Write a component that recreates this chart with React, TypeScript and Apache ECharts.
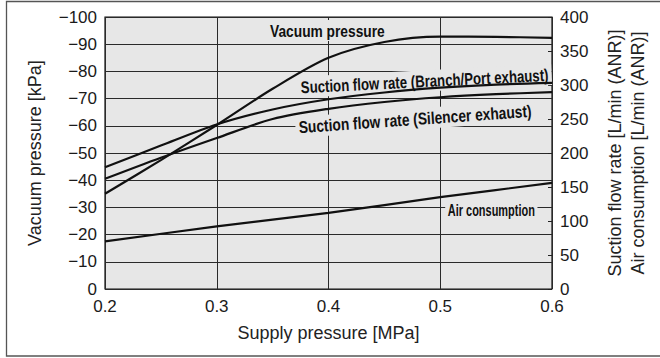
import React, { useEffect, useRef } from "react";
import * as echarts from "echarts";

// Supply pressure [MPa] sampling points
const supplyPressure = [0.2, 0.25, 0.3, 0.35, 0.4, 0.45, 0.5, 0.55, 0.6];
// Vacuum pressure [kPa] (left axis)
const vacuumPressure = [-35, -47.4, -60.3, -73.6, -85, -90.8, -92.8, -92.7, -92.3];
// Suction flow rate [L/min (ANR)] (right axis)
const flowBranchPort = [179, 211, 242, 264, 279, 289, 296, 300.5, 303];
const flowSilencer = [162, 193, 222, 250, 265, 275, 282, 286.5, 289.5];
// Air consumption [L/min (ANR)] (right axis)
const airPressure = [0.2, 0.3, 0.4, 0.5, 0.6];
const airConsumption = [70, 92, 112, 135, 156];

const FONT = '"Liberation Sans", Arial, Helvetica, sans-serif';
const INK = "#111";
const PLOT_BG = "#e7e7e7";

// Curve captions, anchored in data coordinates
const captions = [
  { text: "Vacuum pressure", at: [0.399, -95], yAxisIndex: 0, rotateDeg: 0, stretch: 0.81 },
  { text: "Suction flow rate (Branch/Port exhaust)", at: [0.486, 306], yAxisIndex: 1, rotateDeg: 2.85, stretch: 0.777 },
  { text: "Suction flow rate (Silencer exhaust)", at: [0.4775, 250], yAxisIndex: 1, rotateDeg: 4.0, stretch: 0.81 },
  { text: "Air consumption", at: [0.5457, 116], yAxisIndex: 1, rotateDeg: 0, stretch: 0.645 },
];

const minus = (v: number) => (v < 0 ? "\u2212" + Math.abs(v) : String(v));

const lineStyle = { color: INK, width: 2.2 };

const option: any = {
  animation: false,
  backgroundColor: "#fff",
  textStyle: { fontFamily: FONT },
  grid: {
    left: 105,
    right: 108,
    top: 17,
    bottom: 69,
    show: true,
    backgroundColor: PLOT_BG,
    borderColor: "#111",
    borderWidth: 1.2,
  },
  xAxis: {
    type: "value",
    min: 0.2,
    max: 0.6,
    interval: 0.1,
    name: "Supply pressure [MPa]",
    nameLocation: "middle",
    nameGap: 35,
    nameTextStyle: { fontSize: 18, color: "#222", fontFamily: FONT },
    axisLine: { show: false },
    axisTick: { show: false },
    axisLabel: {
      fontSize: 17,
      color: "#1a1a1a",
      margin: 9,
      formatter: (v: number) => v.toFixed(1),
    },
    splitLine: { show: true, lineStyle: { color: "#2a2a2a", width: 1 } },
  },
  yAxis: [
    {
      type: "value",
      position: "left",
      min: -100,
      max: 0,
      interval: 10,
      inverse: true,
      name: "Vacuum pressure [kPa]",
      nameLocation: "middle",
      nameRotate: 90,
      nameGap: 61,
      nameTextStyle: { fontSize: 18, color: "#222", fontFamily: FONT },
      axisLine: { show: false },
      axisTick: { show: false },
      axisLabel: { fontSize: 17, color: "#1a1a1a", margin: 8, formatter: minus },
      splitLine: { show: true, lineStyle: { color: "#2a2a2a", width: 1 } },
    },
    {
      type: "value",
      position: "right",
      min: 0,
      max: 400,
      interval: 50,
      name: "Suction flow rate [L/min (ANR)]\nAir consumption [L/min (ANR)]",
      nameLocation: "middle",
      nameRotate: 90,
      nameGap: 51,
      nameTextStyle: { fontSize: 18, color: "#222", lineHeight: 23, fontFamily: FONT },
      axisLine: { show: false },
      axisTick: { show: true, inside: true, length: 4, lineStyle: { color: "#222", width: 1 } },
      axisLabel: { fontSize: 17, color: "#1a1a1a", margin: 8 },
      splitLine: { show: false },
    },
  ],
  series: [
    {
      name: "Vacuum pressure",
      type: "line",
      yAxisIndex: 0,
      data: supplyPressure.map((p, i) => [p, vacuumPressure[i]]),
      smooth: 0.3,
      showSymbol: false,
      lineStyle,
      z: 3,
    },
    {
      name: "Suction flow rate (Branch/Port exhaust)",
      type: "line",
      yAxisIndex: 1,
      data: supplyPressure.map((p, i) => [p, flowBranchPort[i]]),
      smooth: 0.3,
      showSymbol: false,
      lineStyle,
      z: 3,
    },
    {
      name: "Suction flow rate (Silencer exhaust)",
      type: "line",
      yAxisIndex: 1,
      data: supplyPressure.map((p, i) => [p, flowSilencer[i]]),
      smooth: 0.3,
      showSymbol: false,
      lineStyle,
      z: 3,
    },
    {
      name: "Air consumption",
      type: "line",
      yAxisIndex: 1,
      data: airPressure.map((p, i) => [p, airConsumption[i]]),
      smooth: 0.2,
      showSymbol: false,
      lineStyle,
      z: 3,
    },
  ],
};

export default function App() {
  const ref = useRef<HTMLDivElement>(null);

  useEffect(() => {
    const el = ref.current;
    if (!el) return;
    const chart = echarts.init(el, undefined, { renderer: "svg" });
    chart.setOption(option);

    const captionElements = captions.map((c) => {
      const pt = chart.convertToPixel(
        { xAxisIndex: 0, yAxisIndex: c.yAxisIndex } as any,
        c.at
      ) as number[];
      return {
        type: "text",
        x: pt[0],
        y: pt[1],
        rotation: (c.rotateDeg * Math.PI) / 180,
        scaleX: c.stretch,
        z: 1,
        style: {
          text: c.text,
          font: `bold 17px ${FONT}`,
          fill: INK,
          align: "center",
          verticalAlign: "middle",
          backgroundColor: PLOT_BG,
          padding: [2, 4],
        },
      };
    });

    chart.setOption({
      graphic: [
        {
          type: "rect",
          shape: { x: 6.5, y: 1.5, width: 655, height: 354.5 },
          style: { fill: "none", stroke: "#555", lineWidth: 1.3 },
          z: 0,
          silent: true,
        },
        ...captionElements,
      ],
    });

    return () => chart.dispose();
  }, []);

  return (
    <div
      ref={ref}
      style={{ position: "absolute", left: 0, top: 0, width: 660, height: 358, background: "#fff" }}
    />
  );
}
